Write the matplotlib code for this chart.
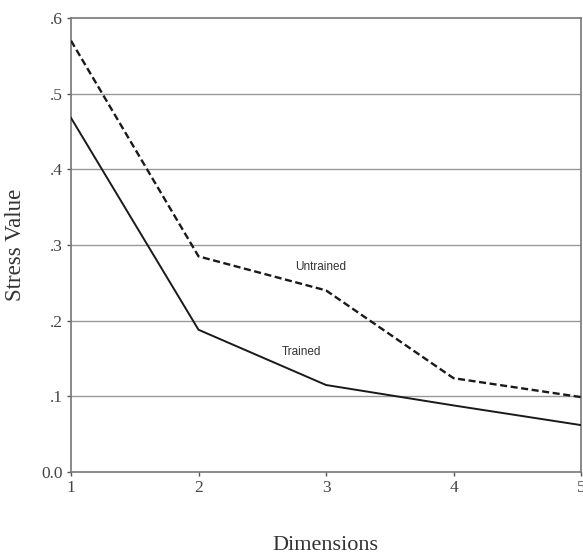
import matplotlib
matplotlib.use("Agg")
import matplotlib.pyplot as plt

dimensions = [1, 2, 3, 4, 5]
untrained = [0.570, 0.285, 0.240, 0.124, 0.099]
trained = [0.468, 0.188, 0.115, 0.088, 0.062]

y_ticks = [0.0, 0.1, 0.2, 0.3, 0.4, 0.5, 0.6]
y_tick_labels = ["0.0", ".1", ".2", ".3", ".4", ".5", ".6"]

fig = plt.figure(figsize=(5.83, 5.59), dpi=100)
ax = fig.add_axes([0.1218, 0.1556, 0.8748, 0.8122])

for y in y_ticks[1:-1]:
    ax.axhline(y, color="#999999", lw=1.0, zorder=1)

ax.plot(dimensions, untrained, color="#1a1a1a", lw=1.7, ls=(0, (3, 1.5)), zorder=3)
ax.plot(dimensions, trained, color="#1a1a1a", lw=1.4, zorder=3)

ax.text(2.96, 0.271, "Untrained", fontsize=8.5, family="Liberation Sans", color="#333333",
        ha="center", va="center")
ax.text(2.81, 0.158, "Trained", fontsize=8.5, family="Liberation Sans", color="#333333",
        ha="center", va="center")

ax.set_xlim(1, 5)
ax.set_ylim(0, 0.6)
ax.set_xticks(dimensions)
ax.set_xticklabels([str(d) for d in dimensions], family="Liberation Serif", fontsize=12.5, color="#444444")
ax.set_yticks(y_ticks)
ax.set_yticklabels(y_tick_labels, family="Liberation Serif", fontsize=12.5, color="#444444")
ax.tick_params(length=3, width=1, color="#555555", pad=3)

for s in ax.spines.values():
    s.set_color("#777777")
    s.set_linewidth(1.2)

fig.text(0.026, 0.562, "Stress Value", family="Liberation Serif", fontsize=16.5, color="#333333",
         rotation=90, ha="center", va="center")
fig.text(0.558, 0.025, "Dimensions", family="Liberation Serif", fontsize=16, color="#333333",
         ha="center", va="center")

fig.savefig("out.png", dpi=100)
